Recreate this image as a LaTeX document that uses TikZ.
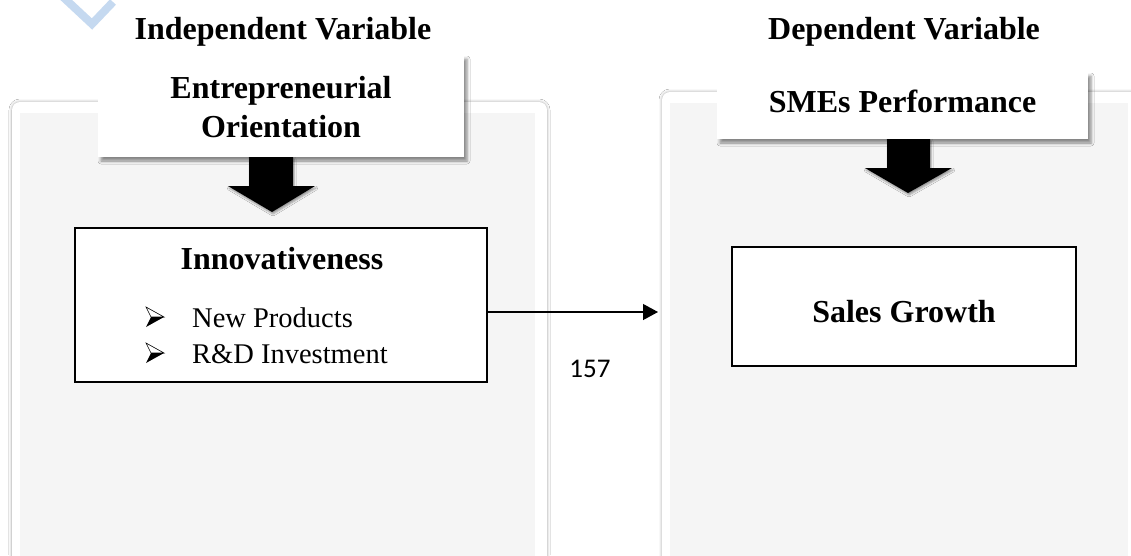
\documentclass[tikz,border=0pt]{standalone}
\usepackage{fontspec}
\setmainfont{Liberation Serif}
\newfontfamily\calfont{Carlito}
\usetikzlibrary{shadows.blur,arrows.meta}
\definecolor{panelgrey}{HTML}{F5F5F5}
\definecolor{chevblue}{RGB}{197,217,240}
\begin{document}
\begin{tikzpicture}[x=1pt,y=-1pt,
  headtxt/.style={font=\fontsize{32}{36}\selectfont\bfseries, anchor=base, inner sep=0pt},
  itemtxt/.style={font=\fontsize{28.5}{33}\selectfont, anchor=base west, inner sep=0pt},
  outerpanel/.style={fill=white, rounded corners=8pt,
     blur shadow={shadow xshift=0pt, shadow yshift=0pt, shadow blur radius=3pt, shadow opacity=35}},
  innerpanel/.style={fill=panelgrey},
  labelbox/.style={draw=none, fill=white, inner sep=0pt,
     blur shadow={shadow xshift=3pt, shadow yshift=-4pt, shadow blur radius=3pt, shadow opacity=45}},
  framebox/.style={draw=black, fill=white, line width=1.4pt, inner sep=0pt},
  blockarrow/.style={fill=black,
     blur shadow={shadow xshift=1pt, shadow yshift=-2pt, shadow blur radius=2pt, shadow opacity=40}},
  linkarrow/.style={draw=black, line width=1.2pt, -{Triangle[length=15pt,width=16pt]}},
  pics/bulletmark/.style={code={
     \draw[black, line width=0.6pt, fill=white, line join=miter] (0,-10) -- (18,0) -- (5,0) -- cycle;
     \fill[black] (0,10) -- (18,0) -- (5,0) -- cycle;
  }}
]
\useasboundingbox (0,0) rectangle (1131,555);
\fill[white] (0,0) rectangle (1131,555);

% watermark chevron
\draw[chevblue, line width=8pt] (62,-4) -- (92,24) -- (113,2);

% panels
\path[outerpanel] (12,102) rectangle (547,585);
\path[innerpanel] (20,113) rectangle (535,585);
\path[outerpanel] (662,92) rectangle (1150,585);
\path[innerpanel] (670,103) rectangle (1128,585);

% titles
\node[headtxt] (indep) at (283,39) {Independent Variable};
\node[headtxt] (dep) at (904,39) {Dependent Variable};

% Entrepreneurial Orientation box
\node[labelbox, minimum width=366pt, minimum height=102pt] (eo) at (281,106) {};
\node[headtxt] (eo1) at (281,98) {Entrepreneurial};
\node[headtxt] (eo2) at (281,137) {Orientation};

% SMEs Performance box
\node[labelbox, minimum width=371pt, minimum height=67pt] (sme) at (902.5,105.5) {};
\node[headtxt] (sme1) at (902.5,112) {SMEs Performance};

% block arrows
\path[blockarrow] (249,157) -- (293,157) -- (293,186) -- (315,186) -- (272,212) -- (228,186) -- (249,186) -- cycle;
\path[blockarrow] (887,139) -- (930,139) -- (930,168) -- (952,168) -- (908,193) -- (865,168) -- (887,168) -- cycle;

% Innovativeness box
\node[framebox, minimum width=412pt, minimum height=154pt] (innov) at (281,305) {};
\node[headtxt] (innovt) at (282,269) {Innovativeness};
\pic at (146,317) {bulletmark};
\node[itemtxt] (i1) at (192,327) {New Products};
\pic at (146,353) {bulletmark};
\node[itemtxt] (i2) at (192,363) {R\&D Investment};

% Sales Growth box
\node[framebox, line width=1.5pt, minimum width=344pt, minimum height=119pt] (sales) at (904,306.5) {};
\node[headtxt] (salest) at (904,322) {Sales Growth};

% connector
\coordinate (tipend) at (658,312);
\draw[linkarrow] ([yshift=-7pt]innov.east) -- (tipend);

% page number
\node[font=\calfont\fontsize{27}{32}\selectfont, anchor=base, inner sep=0pt] (pg) at (590,377) {157};
\end{tikzpicture}
\end{document}
